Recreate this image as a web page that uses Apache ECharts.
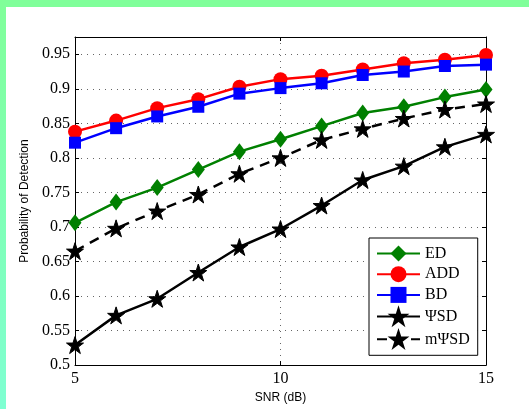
<!DOCTYPE html>
<html>
<head>
<meta charset="utf-8">
<script src="https://cdn.jsdelivr.net/npm/echarts@6/dist/echarts.min.js"></script>
<style>
  html, body { margin: 0; padding: 0; background: #fff; }
  #chart { width: 529px; height: 409px; }
</style>
</head>
<body>
<div id="chart"></div>
<script>
// SNR (dB) points
const snr = [5, 6, 7, 8, 9, 10, 11, 12, 13, 14, 15]
// probability of detection per detector
const ed = [0.706, 0.736, 0.757, 0.783, 0.809, 0.827, 0.846, 0.865, 0.874, 0.888, 0.899]
const add = [0.838, 0.854, 0.872, 0.885, 0.903, 0.914, 0.919, 0.928, 0.937, 0.942, 0.949]
const bd = [0.822, 0.843, 0.860, 0.874, 0.893, 0.901, 0.908, 0.920, 0.925, 0.933, 0.935]
const psd = [0.529, 0.572, 0.596, 0.634, 0.671, 0.697, 0.731, 0.768, 0.788, 0.816, 0.834]
const mpsd = [0.665, 0.698, 0.723, 0.747, 0.777, 0.800, 0.826, 0.842, 0.857, 0.870, 0.878]
const seriesNames = ['ED', 'ADD', 'BD', 'ΨSD', 'mΨSD']

const myChart = echarts.init(document.getElementById('chart'))

const pairs = (ys) => snr.map((x, i) => [x, ys[i]])
const serif = '"Liberation Serif", "DejaVu Serif", serif'
const sans = '"Liberation Sans", Arial, sans-serif'
const star = 'path://M50,0 L61.8,35.4 L99,35.4 L69,57.3 L80.9,92.7 L50,70.8 L19.1,92.7 L31,57.3 L1,35.4 L38.2,35.4 Z'

const line = (name, ys, color, symbol, size, dashed) => ({
  name: name,
  type: 'line',
  data: pairs(ys),
  symbol: symbol,
  symbolSize: size,
  showAllSymbol: true,
  lineStyle: { color: color, width: 2.5, type: dashed ? [10, 7] : 'solid' },
  itemStyle: { color: color, borderColor: color, borderWidth: symbol === star ? 1 : 0 },
  emphasis: { disabled: true },
  animation: false,
})

const options = {
  animation: false,
  graphic: [
    { type: 'rect', shape: { x: 0, y: 0, width: 529, height: 7 }, style: { fill: '#80ff9a' }, silent: true },
    {
      type: 'rect',
      shape: { x: 0, y: 0, width: 6, height: 409 },
      style: {
        fill: {
          type: 'linear', x: 0, y: 0, x2: 0, y2: 1,
          colorStops: [
            { offset: 0, color: '#80ff99' },
            { offset: 1, color: '#7fffd2' },
          ],
        },
      },
      silent: true,
    },
  ],
  grid: { left: 75, right: 43, top: 37, bottom: 42 },
  legend: {
    orient: 'vertical',
    left: 369,
    top: 238,
    data: seriesNames,
    itemWidth: 43,
    itemHeight: 20,
    itemGap: 4.7,
    padding: [7.5, 8, 7, 7],
    borderColor: '#000',
    borderWidth: 1,
    backgroundColor: '#fff',
    borderRadius: 0,
    textStyle: { fontFamily: serif, fontSize: 16, color: '#000' },
    selectedMode: false,
  },
  xAxis: [
    {
      type: 'value',
      min: 5,
      max: 15,
      interval: 5,
      name: 'SNR (dB)',
      nameLocation: 'middle',
      nameGap: 26,
      nameTextStyle: { fontFamily: sans, fontSize: 12, color: '#000' },
      axisLine: { lineStyle: { color: '#000', width: 1 } },
      axisTick: { inside: true, length: 4, lineStyle: { color: '#000' } },
      axisLabel: { fontFamily: serif, fontSize: 16, color: '#000', margin: 6 },
      splitLine: { show: true, lineStyle: { color: '#666', type: [1, 5] } },
    },
    {
      type: 'value',
      position: 'top',
      min: 5,
      max: 15,
      interval: 5,
      axisLine: { lineStyle: { color: '#000', width: 1 } },
      axisTick: { inside: true, length: 4, lineStyle: { color: '#000' } },
      axisLabel: { show: false },
      splitLine: { show: false },
    },
  ],
  yAxis: [
    {
      type: 'value',
      min: 0.5,
      max: 0.975,
      interval: 0.05,
      name: 'Probability of Detection',
      nameLocation: 'middle',
      nameGap: 39,
      nameTextStyle: { fontFamily: sans, fontSize: 12, color: '#000' },
      axisLine: { show: true, lineStyle: { color: '#000', width: 1 } },
      axisTick: { show: true, inside: true, length: 4, lineStyle: { color: '#000' } },
      axisLabel: { fontFamily: serif, fontSize: 16, color: '#000', margin: 5, showMaxLabel: false },
      splitLine: { show: true, lineStyle: { color: '#666', type: [1, 5] } },
    },
    {
      type: 'value',
      position: 'right',
      min: 0.5,
      max: 0.975,
      interval: 0.05,
      axisLine: { show: true, lineStyle: { color: '#000', width: 1 } },
      axisTick: { show: true, inside: true, length: 4, lineStyle: { color: '#000' } },
      axisLabel: { show: false },
      splitLine: { show: false },
    },
  ],
  series: [
    line('ED', ed, '#008000', 'diamond', [13, 17], false),
    line('ADD', add, '#ff0000', 'circle', 14, false),
    line('BD', bd, '#0000ff', 'rect', 12, false),
    line('ΨSD', psd, '#000000', star, 17, false),
    line('mΨSD', mpsd, '#000000', star, 17, true),
  ],
}
myChart.setOption(options)
</script>
</body>
</html>
